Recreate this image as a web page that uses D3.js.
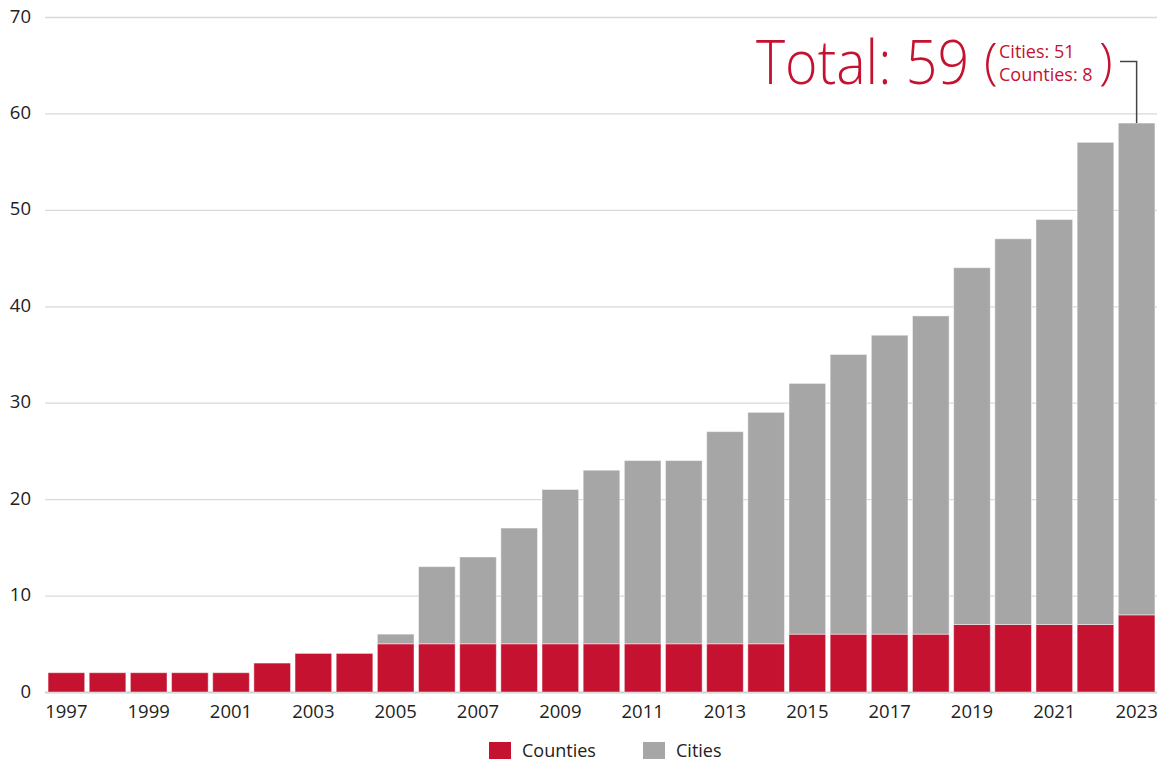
<!DOCTYPE html>
<html><head><meta charset="utf-8">
<script src="https://cdn.jsdelivr.net/npm/d3@7"></script>
<style>
html,body{margin:0;padding:0;background:#fff;}
svg{display:block;font-family:"Open Sans","Noto Sans",sans-serif;}
</style></head>
<body>
<svg id="chart" width="1161" height="762"></svg>
<script>
const years = [1997,1998,1999,2000,2001,2002,2003,2004,2005,2006,2007,2008,2009,2010,2011,2012,2013,2014,2015,2016,2017,2018,2019,2020,2021,2022,2023];
const counties = [2,2,2,2,2,3,4,4,5,5,5,5,5,5,5,5,5,5,6,6,6,6,7,7,7,7,8];
const cities =   [0,0,0,0,0,0,0,0,1,8,9,12,16,18,19,19,22,24,26,29,31,33,37,40,42,50,51];
const yTicks = [0,10,20,30,40,50,60,70];
const xTickLabels = [1997,1999,2001,2003,2005,2007,2009,2011,2013,2015,2017,2019,2021,2023];
const seriesNames = ["Counties","Cities"];
const seriesColors = ["#c41230","#a6a6a6"];
const totalLabel = "Total: 59";
const breakdown = ["Cities: 51","Counties: 8"];

const svg = d3.select("#chart");
const x = d3.scaleBand().domain(years).range([46,1157]).paddingInner(0.11).paddingOuter(0.05);
const y = d3.scaleLinear().domain([0,70]).range([692,17]);

// gridlines
svg.append("g").selectAll("line").data(yTicks).join("line")
  .attr("x1",45).attr("x2",1157)
  .attr("y1",d=>y(d)+0.5).attr("y2",d=>y(d)+0.5)
  .attr("stroke",d=>d===0?"#cfcfcf":"#d9d9d9").attr("stroke-width",d=>d===0?2:1.3);

// y labels
svg.append("g").selectAll("text").data(yTicks).join("text")
  .attr("x",31).attr("y",d=>y(d)+5.5).attr("text-anchor","end")
  .attr("font-size",18.5).attr("fill","#222").text(d=>d);

// stacked data
const rows = years.map((yr,i)=>({year:yr, Counties:counties[i], Cities:cities[i]}));
const stack = d3.stack().keys(seriesNames)(rows);
const color = d3.scaleOrdinal().domain(seriesNames).range(seriesColors);

svg.append("g").selectAll("g").data(stack).join("g")
  .attr("fill",d=>color(d.key))
  .selectAll("rect").data(d=>d.filter(p=>p[1]>p[0])).join("rect")
  .attr("x",d=>x(d.data.year)).attr("width",x.bandwidth())
  .attr("y",d=>y(d[1])).attr("height",d=>y(d[0])-y(d[1]))
  .attr("stroke","rgba(255,255,255,0.45)").attr("stroke-width",1);

// x labels
svg.append("g").selectAll("text").data(xTickLabels).join("text")
  .attr("x",d=>x(d)+x.bandwidth()/2).attr("y",718).attr("text-anchor","middle")
  .attr("font-size",18.5).attr("fill","#222").text(d=>d);

// legend
const lg = svg.append("g");
const legendX = [489,643];
seriesNames.forEach((n,i)=>{
  lg.append("rect").attr("x",legendX[i]).attr("y",742).attr("width",22).attr("height",17).attr("fill",seriesColors[i]);
  lg.append("text").attr("x",legendX[i]+33).attr("y",756.5).attr("font-size",18).attr("fill","#222").text(n);
});

// annotation
const last = years[years.length-1];
const lastTotal = counties[counties.length-1]+cities[cities.length-1];
const red = "#c41230";
svg.append("text").attr("transform","translate(756,84) scale(1,1.1)")
  .attr("font-size",55.5).attr("font-weight",300)
  .attr("fill",red).text(totalLabel);
const br = svg.append("text").attr("fill",red);
br.append("tspan").attr("x",984).attr("y",79).attr("font-size",50).attr("font-weight",300).text("(");
breakdown.forEach((t,i)=>{
  br.append("tspan").attr("x",999).attr("y",58+i*23).attr("font-size",18).text(t);
});
br.append("tspan").attr("x",1099).attr("y",79).attr("font-size",50).attr("font-weight",300).text(")");
const lx = x(last)+x.bandwidth()/2;
svg.append("path")
  .attr("d",`M1120,61.5H${lx}V${y(lastTotal)}`)
  .attr("fill","none").attr("stroke","#444").attr("stroke-width",1.5);
</script>
</body></html>
